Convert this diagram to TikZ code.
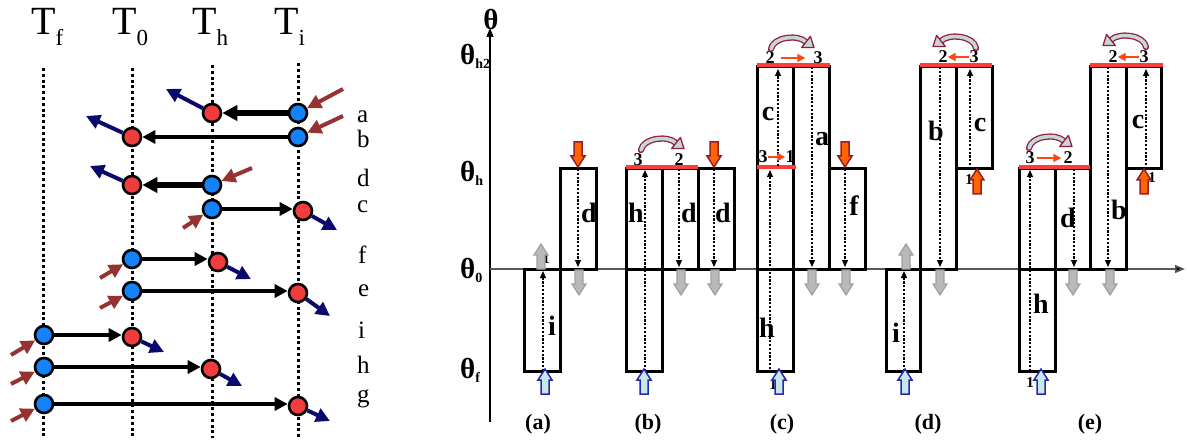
\documentclass[tikz,border=0pt]{standalone}
\usepackage{fontspec}
\setmainfont{Liberation Serif}
\usetikzlibrary{arrows.meta}
\definecolor{cblue}{RGB}{20,130,250}
\definecolor{cred}{RGB}{240,60,60}
\definecolor{inbrown}{RGB}{150,50,50}
\definecolor{outnavy}{RGB}{10,10,110}
\definecolor{redline}{RGB}{255,60,60}
\definecolor{garrfill}{RGB}{185,185,185}
\definecolor{garrdraw}{RGB}{160,160,160}
\definecolor{barrfill}{RGB}{200,232,240}
\definecolor{barrdraw}{RGB}{40,40,170}
\definecolor{oarrfill}{RGB}{255,100,0}
\definecolor{oarrdraw}{RGB}{150,30,40}
\definecolor{arcred}{RGB}{150,30,60}
\definecolor{arcfill}{RGB}{195,215,220}
\definecolor{smallarr}{RGB}{255,70,20}
\newcommand\tsubs[1]{\raisebox{-11pt}{\fontsize{23}{23}\selectfont #1}}
\newcommand\thsubs[1]{\raisebox{-4pt}{\fontsize{14}{14}\selectfont\bfseries #1}}
\tikzset{
  vdot/.style={line width=3pt, dash pattern=on 3pt off 2.8pt},
  bc/.style={circle, fill=cblue, draw=black, line width=2.6pt, minimum size=18pt, inner sep=0pt},
  rc/.style={bc, fill=cred},
  harr/.style={line width=4.2pt, -{Triangle[length=13pt,width=13pt]}},
  inarr/.style={draw=inbrown, line width=4pt, -{Triangle[length=14pt,width=14pt]}},
  outarr/.style={draw=outnavy, line width=4pt, -{Triangle[length=14pt,width=14pt]}},
  tlab/.style={font=\fontsize{40}{40}\selectfont, anchor=base west, inner sep=0pt},
  rowlab/.style={font=\fontsize{25}{25}\selectfont, anchor=base west, inner sep=0pt},
  box/.style={draw=black, line width=3pt},
  redl/.style={draw=redline, line width=3.4pt},
  dotarr/.style={line width=1.2pt, dash pattern=on 2.2pt off 1.6pt, -{Triangle[length=7pt,width=6pt]}},
  blab/.style={font=\bfseries\fontsize{28}{28}\selectfont, inner sep=0pt},
  num/.style={font=\bfseries\fontsize{18}{18}\selectfont, inner sep=0pt},
  tiny1/.style={font=\bfseries\fontsize{15}{15}\selectfont, inner sep=0pt},
  plab/.style={font=\bfseries\fontsize{22}{22}\selectfont, inner sep=0pt},
  thlab/.style={font=\bfseries\fontsize{29}{29}\selectfont, anchor=base west, inner sep=0pt},
  smarr/.style={draw=smallarr, line width=1.8pt, -{Triangle[length=8pt,width=8pt]}},
  garr/.style={fill=garrfill, draw=garrdraw, line width=1.2pt},
  barr/.style={fill=barrfill, draw=barrdraw, line width=1.5pt},
  oarr/.style={fill=oarrfill, draw=oarrdraw, line width=1.5pt},
  bup/.pic={\path[pic actions] (-4,0) -- (-4,-14) -- (-7,-14) -- (0,-25) -- (7,-14) -- (4,-14) -- (4,0) -- cycle;},
  bdn/.pic={\path[pic actions] (-4,0) -- (-4,14) -- (-7,14) -- (0,25) -- (7,14) -- (4,14) -- (4,0) -- cycle;},
  carc/.pic={
    \draw[draw=arcred, double=arcfill, double distance=3.6pt, line width=1.3pt, line cap=round] (-22,2) .. controls (-20,-10) and (5,-13) .. (13,-5);
    \filldraw[draw=arcred, fill=arcfill, line width=1.3pt, line join=round] (8.6,0.6) -- (21,0.6) -- (17.4,-10.6) -- cycle;
  },
}
\begin{document}
\begin{tikzpicture}[x=1pt,y=-1pt]
\useasboundingbox (0,0) rectangle (1187,441);

% ================= left panel =================
\draw[vdot] (43,68) -- (43,438);
\draw[vdot] (132,68) -- (132,438);
\draw[vdot] (212,65) -- (212,438);
\draw[vdot] (298,63) -- (298,438);

\node[tlab] (Tf) at (31,35) {T\tsubs{f}};
\node[tlab] (T0) at (112,35) {T\tsubs{0}};
\node[tlab] (Th) at (192,35) {T\tsubs{h}};
\node[tlab] (Ti) at (274,35) {T\tsubs{i}};

% row a
\node[bc] (ba) at (298,113) {}; \node[rc] (ra) at (212,113) {};
\coordinate (ia) at (343,89); \coordinate (oa) at (166,89);
\draw[harr, line width=6.5pt, -{Triangle[length=15pt,width=15pt]}] (ba) -- (ra);
\draw[inarr] (ia) -- (ba); \draw[outarr] (ra) -- (oa);
% row b
\node[bc] (bb) at (298,137) {}; \node[rc] (rb) at (132,137) {};
\coordinate (ib) at (343,116); \coordinate (ob) at (86,116);
\draw[harr, line width=4.5pt] (bb) -- (rb);
\draw[inarr] (ib) -- (bb); \draw[outarr] (rb) -- (ob);
% row d
\node[bc] (bd) at (212,185) {}; \node[rc] (rd) at (132,185) {};
\coordinate (id) at (252,168); \coordinate (od) at (90,166);
\draw[harr, line width=6pt, -{Triangle[length=15pt,width=15pt]}] (bd) -- (rd);
\draw[inarr] (id) -- (bd); \draw[outarr] (rd) -- (od);
% row c
\node[bc] (bcc) at (212,209) {}; \node[rc] (rcc) at (303,211) {};
\coordinate (ic) at (183,228); \coordinate (oc) at (337,230);
\draw[harr] (bcc) -- (bcc -| rcc.west);
\draw[inarr] (ic) -- (bcc); \draw[outarr] (rcc) -- (oc);
% row f
\node[bc] (bf) at (132,259) {}; \node[rc] (rf) at (218,262) {};
\coordinate (if) at (100,278); \coordinate (of) at (251,279);
\draw[harr] (bf) -- (bf -| rf.west);
\draw[inarr] (if) -- (bf); \draw[outarr] (rf) -- (of);
% row e
\node[bc] (be) at (132,291) {}; \node[rc] (re) at (298,293) {};
\coordinate (ie) at (100,308); \coordinate (oe) at (330,316);
\draw[harr] (be) -- (be -| re.west);
\draw[inarr] (ie) -- (be); \draw[outarr] (re) -- (oe);
% row i
\node[bc] (bi) at (44,335) {}; \node[rc] (ri) at (132,337) {};
\coordinate (ii) at (11,355); \coordinate (oi) at (164,352);
\draw[harr] (bi) -- (bi -| ri.west);
\draw[inarr] (ii) -- (bi); \draw[outarr] (ri) -- (oi);
% row h
\node[bc] (bh) at (44,367) {}; \node[rc] (rh) at (211,369) {};
\coordinate (ih) at (11,384); \coordinate (oh) at (242,386);
\draw[harr] (bh) -- (bh -| rh.west);
\draw[inarr] (ih) -- (bh); \draw[outarr] (rh) -- (oh);
% row g
\node[bc] (bg) at (44,404) {}; \node[rc] (rg) at (298,406) {};
\coordinate (ig) at (11,421); \coordinate (og) at (330,421);
\draw[harr] (bg) -- (bg -| rg.west);
\draw[inarr] (ig) -- (bg); \draw[outarr] (rg) -- (og);

\node[rowlab] (la) at (357,123) {a};
\node[rowlab] (lb) at (357,148) {b};
\node[rowlab] (ld) at (357,187) {d};
\node[rowlab] (lc) at (357,213) {c};
\node[rowlab] (lf) at (358,263) {f};
\node[rowlab] (le) at (358,296) {e};
\node[rowlab] (li) at (358,338) {i};
\node[rowlab] (lh) at (357,373) {h};
\node[rowlab] (lg) at (357,402) {g};

% ================= right panel =================
\draw[line width=1.5pt, -{Triangle[length=9pt,width=7pt]}] (490,422) -- (490,28);
\draw[draw=black!65, line width=1.6pt, -{Triangle[length=10pt,width=8pt, fill=black]}] (490,269) -- (1185,269);

\node[font=\bfseries\fontsize{29}{29}\selectfont, inner sep=0pt] (thax) at (491,20) {θ};
\node[thlab] (thh2) at (460,65) {θ\thsubs{h2}};
\node[thlab] (thh) at (460,182) {θ\thsubs{h}};
\node[thlab] (th0) at (460,278) {θ\thsubs{0}};
\node[thlab] (thf) at (460,378) {θ\thsubs{f}};

% boxes
\draw[box] (524,269) rectangle (560,371);
\draw[box] (560,169) rectangle (596,269);
\draw[box] (626,169) rectangle (662,371);
\draw[box] (626,269) -- (662,269);
\draw[box] (662,169) rectangle (698,269);
\draw[box] (698,169) rectangle (734,269);
\draw[box] (757,67) rectangle (793,371);
\draw[box] (757,269) -- (793,269);
\draw[box] (793,67) rectangle (829,269);
\draw[box] (829,169) rectangle (865,269);
\draw[box] (886,269) rectangle (920,371);
\draw[box] (920,67) rectangle (956,269);
\draw[box] (956,67) rectangle (992,169);
\draw[box] (1019,169) rectangle (1055,371);
\draw[box] (1019,269) -- (1055,269);
\draw[box] (1055,169) rectangle (1090,269);
\draw[box] (1090,67) rectangle (1126,269);
\draw[box] (1126,67) rectangle (1161,169);

% red levels
\draw[redl] (626,167) -- (698,167);
\draw[redl] (757,65) -- (830,65);
\draw[redl] (757,167) -- (796,167);
\draw[redl] (920,65) -- (992,65);
\draw[redl] (1019,167) -- (1090,167);
\draw[redl] (1090,65) -- (1163,65);

% dotted arrows
\draw[dotarr] (543,371) -- (543,271);
\draw[dotarr] (578,169) -- (578,267);
\draw[dotarr] (645,371) -- (645,170);
\draw[dotarr] (679,169) -- (679,267);
\draw[dotarr] (714,169) -- (714,267);
\draw[dotarr] (770,369) -- (770,170);
\draw[dotarr] (778,166) -- (778,69);
\draw[dotarr] (812,67) -- (812,267);
\draw[dotarr] (845,169) -- (845,267);
\draw[dotarr] (904,371) -- (904,271);
\draw[dotarr] (940,67) -- (940,267);
\draw[dotarr] (970,169) -- (970,69);
\draw[dotarr] (1030,371) -- (1030,170);
\draw[dotarr] (1074,169) -- (1074,267);
\draw[dotarr] (1108,67) -- (1108,267);
\draw[dotarr] (1146,169) -- (1146,69);

% box labels
\node[blab] (Ai) at (552,326) {i};
\node[blab] (Ad) at (589,213) {d};
\node[blab] (Bh) at (636,213) {h};
\node[blab] (Bd1) at (689,213) {d};
\node[blab] (Bd2) at (723,213) {d};
\node[blab] (Cc) at (768,114) {c};
\node[blab] (Ch) at (767,328) {h};
\node[blab] (Ca) at (822,139) {a};
\node[blab] (Cf) at (854,206) {f};
\node[blab] (Di) at (896,333) {i};
\node[blab] (Db) at (936,131) {b};
\node[blab] (Dc) at (980,125) {c};
\node[blab] (Eh) at (1041,304) {h};
\node[blab] (Ed) at (1068,218) {d};
\node[blab] (Eb) at (1119,210) {b};
\node[blab] (Ec) at (1138,122) {c};

% small hidden 1s
\node[tiny1] (one1) at (546,259) {1};
\node[tiny1] (one2) at (908,262) {1};
\node[tiny1] (one3) at (773,385) {1};
\node[tiny1] (one4) at (1030,383) {1};
\node[tiny1] (one5) at (969,180) {1};
\node[tiny1] (one6) at (1152,178) {1};

% numbers and small arrows
\node[num] (b3) at (638,160) {3};
\node[num] (b2) at (679,160) {2};
\node[num] (c3m) at (763,157) {3};
\node[num] (c1m) at (790,157) {1};
\draw[smarr] (c3m) -- (c1m);
\node[num] (c2t) at (770,58) {2};
\node[num] (c3t) at (818,58) {3};
\draw[smarr, shorten <=6pt, shorten >=8pt] (c2t) -- (c3t);
\node[num] (d2t) at (943,57) {2};
\node[num] (d3t) at (974,57) {3};
\draw[smarr] (d3t) -- (d2t);
\node[num] (e3m) at (1030,158) {3};
\node[num] (e2m) at (1068,158) {2};
\draw[smarr, shorten <=2pt, shorten >=2pt] (e3m) -- (e2m);
\node[num] (e2t) at (1113,57) {2};
\node[num] (e3t) at (1144,57) {3};
\draw[smarr] (e3t) -- (e2t);

% curved arrows
\pic at (663,148) {carc};
\pic at (793,47) {carc};
\pic[xscale=-1] at (954,46) {carc};
\pic at (1051,146) {carc};
\pic[xscale=-1] at (1124,45) {carc};

% block arrows
\pic[garr] at (541,269) {bup};
\pic[garr] at (906,269) {bup};
\pic[garr] at (579,270) {bdn};
\pic[garr] at (681,270) {bdn};
\pic[garr] at (715,270) {bdn};
\pic[garr] at (812,270) {bdn};
\pic[garr] at (846,270) {bdn};
\pic[garr] at (940,270) {bdn};
\pic[garr] at (1073,270) {bdn};
\pic[garr] at (1110,270) {bdn};
\pic[barr] at (545,394) {bup};
\pic[barr] at (644,394) {bup};
\pic[barr] at (779,394) {bup};
\pic[barr] at (905,394) {bup};
\pic[barr] at (1041,394) {bup};
\pic[oarr] at (578,142) {bdn};
\pic[oarr] at (714,142) {bdn};
\pic[oarr] at (845,142) {bdn};
\pic[oarr] at (977,194) {bup};
\pic[oarr] at (1144,194) {bup};

% panel labels
\node[plab] (pa) at (538,424) {(a)};
\node[plab] (pb) at (648,424) {(b)};
\node[plab] (pc) at (782,424) {(c)};
\node[plab] (pd) at (928,424) {(d)};
\node[plab] (pe) at (1090,424) {(e)};
\end{tikzpicture}
\end{document}
